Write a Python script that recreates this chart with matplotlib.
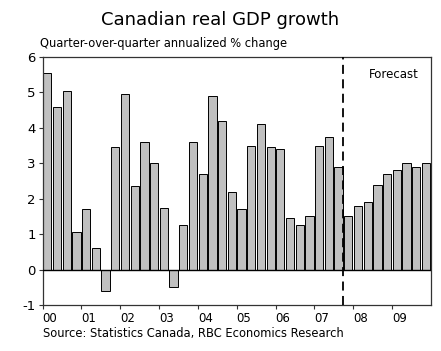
import matplotlib
matplotlib.use('Agg')
import matplotlib.pyplot as plt
import numpy as np

# quarterly growth, 2000Q1 .. 2009Q4 (last 9 quarters are forecast)
growth = [5.55, 4.6, 5.05, 1.05,
          1.7, 0.6, -0.6, 3.45,
          4.95, 2.35, 3.6, 3.0,
          1.75, -0.5, 1.25, 3.6,
          2.7, 4.9, 4.2, 2.2,
          1.7, 3.5, 4.1, 3.45,
          3.4, 1.45, 1.25, 1.5,
          3.5, 3.75, 2.9, 1.5,
          1.8, 1.9, 2.4, 2.7,
          2.8, 3.0, 2.9, 3.0]
years = ['00', '01', '02', '03', '04', '05', '06', '07', '08', '09']
n_actual = 31

small = 'DejaVu Sans'

fig = plt.figure(figsize=(4.41, 3.51), dpi=100)
ax = fig.add_axes([0.0964, 0.131, 0.8806, 0.7066])

x = np.arange(len(growth))
ax.bar(x, growth, width=0.85, color='#c0c0c0', edgecolor='black', linewidth=0.7, zorder=2)

# zero line and start of forecast
ax.axhline(0, color='black', linewidth=1.0, zorder=3)
ax.axvline(n_actual - 0.5, color='black', linewidth=1.3, linestyle=(0, (5, 3)), zorder=4)
ax.text(0.905, 0.93, 'Forecast', transform=ax.transAxes, ha='center', va='center',
        fontsize=8.5, family=small)

ax.set_xlim(-0.5, len(growth) - 0.5)
ax.set_ylim(-1, 6)
ax.set_yticks(range(-1, 7))
ax.set_yticklabels([str(v) for v in range(-1, 7)], family=small, fontsize=9.5)

ax.set_xticks(np.arange(len(years)) * 4 - 0.5)
ax.set_xticklabels(years, family=small, fontsize=8.5)
for lab in ax.get_xticklabels():
    lab.set_ha('left')

ax.tick_params(axis='both', direction='out', length=3, width=0.8, color='#333333', pad=2)
for s in ax.spines.values():
    s.set_color('#333333')
    s.set_linewidth(0.9)

fig.text(0.5, 0.943, 'Canadian real GDP growth', ha='center', va='center', fontsize=13)
fig.text(0.09, 0.877, 'Quarter-over-quarter annualized % change', ha='left', va='center',
         fontsize=8.3, family=small)
fig.text(0.097, 0.051, 'Source: Statistics Canada, RBC Economics Research', ha='left',
         va='center', fontsize=8.3, family=small)

fig.savefig('out.png', dpi=100)
